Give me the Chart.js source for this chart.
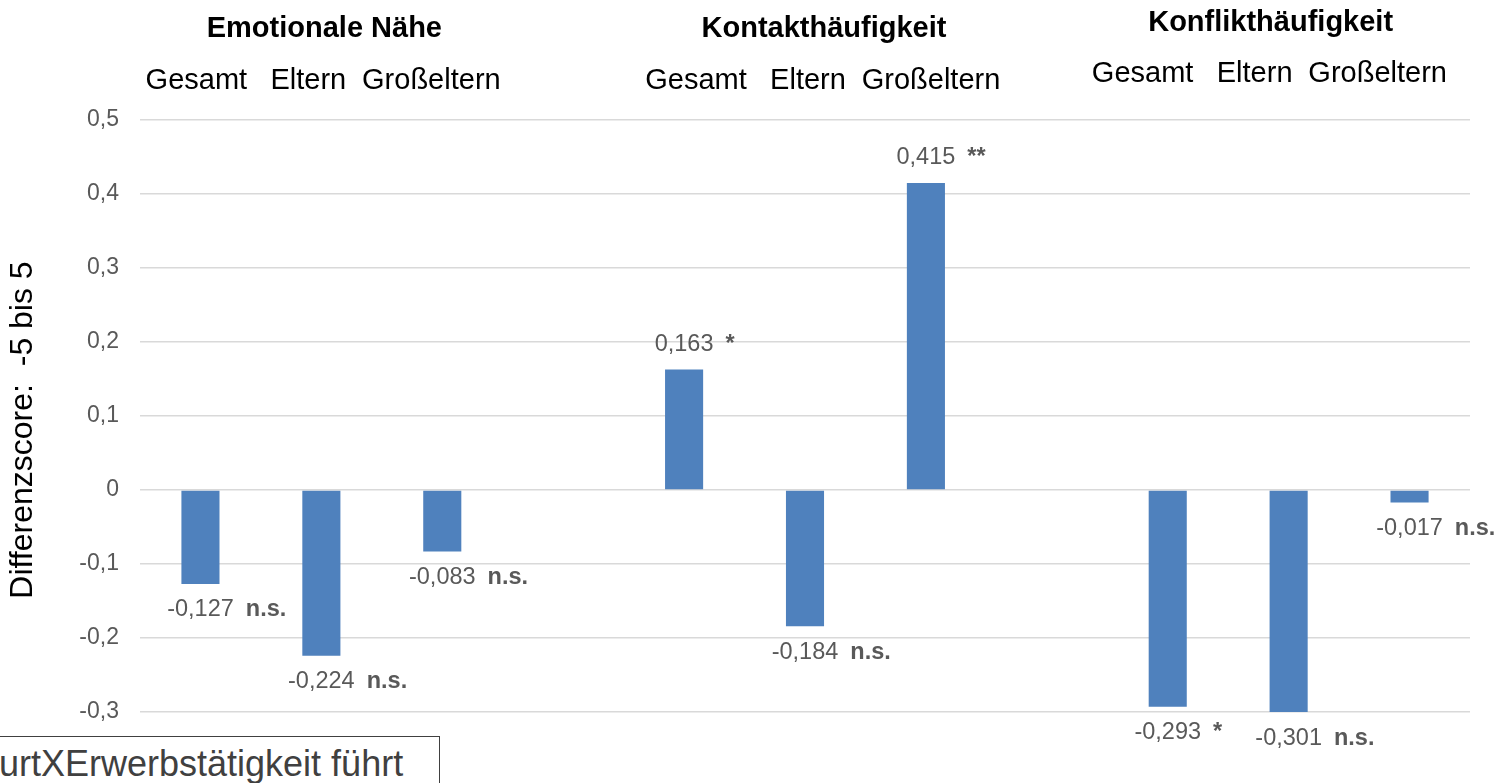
<!DOCTYPE html>
<html>
<head>
<meta charset="utf-8">
<script src="https://cdn.jsdelivr.net/npm/chart.js@4.4.1/dist/chart.umd.min.js"></script>
<style>
  html, body { margin: 0; padding: 0; background: #ffffff; overflow: hidden; }
  #wrap { position: absolute; left: 0; top: 0; width: 1497px; height: 783px; }
  #note {
    position: absolute; left: -10px; top: 736px; width: 450px; height: 60px;
    box-sizing: border-box; border: 1px solid #404040; background: #fff;
    padding: 7px 0 0 8px; white-space: nowrap; overflow: hidden;
    font-family: "Liberation Sans", Arial, sans-serif; font-size: 36px; line-height: 40px; color: #404040;
  }
</style>
</head>
<body>
<div id="wrap"><canvas id="c"></canvas></div>
<div id="note">urtXErwerbstätigkeit führt</div>
<script>
// ---- data ----
const categories = ['Gesamt', 'Eltern', 'Großeltern', '', 'Gesamt', 'Eltern', 'Großeltern', '', 'Gesamt', 'Eltern', 'Großeltern'];
const values = [-0.127, -0.224, -0.083, null, 0.163, -0.184, 0.415, null, -0.293, -0.301, -0.017];
const significance = ['n.s.', 'n.s.', 'n.s.', '', '*', 'n.s.', '**', '', '*', 'n.s.', 'n.s.'];
const groupTitles = ['Emotionale Nähe', 'Kontakthäufigkeit', 'Konflikthäufigkeit'];
const groupMembers = [[0, 1, 2], [4, 5, 6], [8, 9, 10]];
const yMin = -0.3;
const yMax = 0.5;
const yStep = 0.1;
const yAxisTitle = 'Differenzscore:  -5 bis 5';

const FONT = '"Liberation Sans", Arial, sans-serif';
const fmt = (v, d) => v.toFixed(d).replace('.', ',');

const annotations = {
  id: 'annotations',
  afterDatasetsDraw(chart, args, opts) {
    const ctx = chart.ctx, xs = chart.scales.x, ys = chart.scales.y;
    ctx.save();
    ctx.textBaseline = 'middle';
    values.forEach((v, i) => {
      if (v === null) return;
      const px = xs.getPixelForValue(i);
      const py = ys.getPixelForValue(v);
      const ly = v >= 0 ? py - opts.labelGapPos : py + opts.labelGapNeg;
      const txt = fmt(v, 3);
      ctx.font = '23.5px ' + FONT;
      ctx.fillStyle = '#595959';
      ctx.textAlign = 'center';
      ctx.fillText(txt, px, ly);
      const w = ctx.measureText(txt).width;
      ctx.font = 'bold 23.5px ' + FONT;
      ctx.textAlign = 'left';
      ctx.fillText(significance[i], px + w / 2 + opts.markerGap, ly);
    });
    // group titles and sub-labels
    groupMembers.forEach((g, gi) => {
      const c = xs.getPixelForValue(g[1]) + opts.groupShift[gi];
      ctx.fillStyle = '#000000';
      ctx.textAlign = 'center';
      ctx.font = 'bold 29px ' + FONT;
      ctx.fillText(groupTitles[gi], c, opts.titleY[gi]);
      ctx.font = '29px ' + FONT;
      g.forEach((idx, k) => {
        ctx.fillText(categories[idx], c + opts.wordOffsets[k], opts.subY[gi]);
      });
    });
    // y-axis title
    const midY = (chart.chartArea.top + chart.chartArea.bottom) / 2 + opts.yTitleShift;
    ctx.translate(opts.yTitleX, midY);
    ctx.rotate(-Math.PI / 2);
    ctx.font = '32px ' + FONT;
    ctx.textAlign = 'center';
    ctx.fillText(yAxisTitle, 0, 0);
    ctx.restore();
  }
};

new Chart(document.getElementById('c'), {
  type: 'bar',
  data: {
    labels: categories,
    datasets: [{
      data: values,
      backgroundColor: '#4F81BD',
      borderWidth: 0,
      barPercentage: 0.315,
      categoryPercentage: 1.0
    }]
  },
  options: {
    responsive: true,
    maintainAspectRatio: false,
    animation: false,
    layout: { padding: { left: 0, right: 27, top: 120, bottom: 71 } },
    plugins: {
      legend: { display: false },
      tooltip: { enabled: false },
      annotations: {
        labelGapPos: 25,
        labelGapNeg: 26,
        markerGap: 12,
        groupShift: [3, 19, -18],
        titleY: [29, 29, 23],
        subY: [81, 81, 74],
        wordOffsets: [-128, -16, 107],
        yTitleX: 23,
        yTitleShift: 14
      }
    },
    scales: {
      x: { display: false },
      y: {
        min: yMin,
        max: yMax,
        afterFit(scale) { scale.width = 140; },
        border: { display: false },
        grid: { color: '#D9D9D9', lineWidth: 1.5, drawTicks: false },
        ticks: {
          stepSize: yStep,
          padding: 21,
          color: '#595959',
          font: { family: FONT, size: 23 },
          callback: (v) => Math.abs(v) < 1e-9 ? '0' : fmt(v, 1)
        }
      }
    }
  },
  plugins: [annotations]
});
</script>
</body>
</html>
